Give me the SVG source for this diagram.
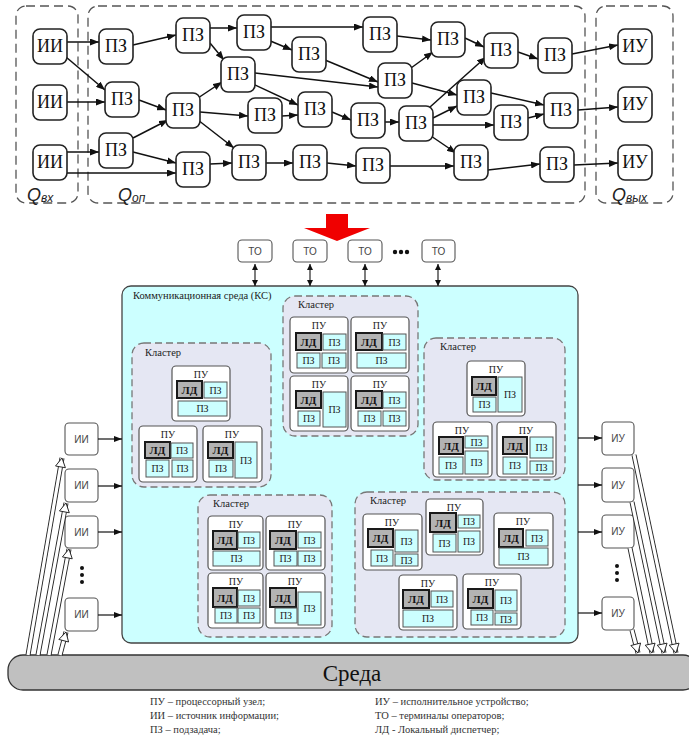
<svg xmlns="http://www.w3.org/2000/svg" width="689" height="740" viewBox="0 0 689 740">
<style>
.zone{fill:none;stroke:#555;stroke-width:1.3;stroke-dasharray:9 5}
.n{fill:#fff;stroke:#222;stroke-width:1.6}
.nt{font-family:"Liberation Serif","DejaVu Serif",serif;font-size:18px;fill:#111;text-anchor:middle}
.q{font-family:"Liberation Sans",Arial,sans-serif;font-style:italic;fill:#222;font-size:18px}
.e{stroke:#111;stroke-width:1.5;fill:none;marker-end:url(#a)}
.e2{stroke:#111;stroke-width:1.2;fill:none;marker-end:url(#a2)}
.d{stroke:#111;stroke-width:1.1;fill:none;marker-start:url(#a3);marker-end:url(#a3)}
.hs{stroke:#222;stroke-width:5;fill:none}
.hi{stroke:#fff;stroke-width:3.2;fill:none;marker-end:url(#h)}
.box{fill:#fff;stroke:#555;stroke-width:1.1}
.bt{font-family:"Liberation Sans",Arial,sans-serif;font-size:10px;fill:#444;text-anchor:middle}
.kc{fill:#ccffff;stroke:#444;stroke-width:1.3}
.cl{fill:#e5e7f3;stroke:#777;stroke-width:1.3;stroke-dasharray:7 4}
.lbl{font-family:"Liberation Serif","DejaVu Serif",serif;font-size:10.5px;fill:#222}
.pu{fill:#fff;stroke:#555;stroke-width:1.2}
.ld{fill:#b3b3b3;stroke:#1a1a1a;stroke-width:2}
.pz{fill:#ccffff;stroke:#555;stroke-width:1}
.t{font-family:"Liberation Serif","DejaVu Serif",serif;font-size:10px;fill:#222;text-anchor:middle}
.tb{font-family:"Liberation Serif","DejaVu Serif",serif;font-size:11px;font-weight:bold;fill:#111;text-anchor:middle}
.leg{font-family:"Liberation Serif","DejaVu Serif",serif;font-size:10.5px;fill:#333}
</style>
<defs>
<marker id="a" markerUnits="userSpaceOnUse" markerWidth="9" markerHeight="7" refX="9" refY="3.5" orient="auto"><path d="M0,0 L9,3.5 L0,7 z" fill="#111"/></marker>
<marker id="a2" markerUnits="userSpaceOnUse" markerWidth="8" markerHeight="6" refX="8" refY="3" orient="auto"><path d="M0,0 L8,3 L0,6 z" fill="#111"/></marker>
<marker id="a3" markerUnits="userSpaceOnUse" markerWidth="6" markerHeight="6" refX="6" refY="3" orient="auto-start-reverse"><path d="M0,0 L6,3 L0,6 z" fill="#111"/></marker>
<marker id="h" markerUnits="userSpaceOnUse" markerWidth="12" markerHeight="12" refX="9" refY="5" orient="auto" overflow="visible"><path d="M0,0 L9,5 L0,10 z" fill="#fff" stroke="#222" stroke-width="0.9"/></marker>
</defs>
<rect width="689" height="740" fill="#fff"/>

<g id="zones">
<rect class="zone" x="16" y="6" width="62" height="197" rx="10"/>
<rect class="zone" x="88" y="6" width="497" height="197" rx="10"/>
<rect class="zone" x="596" y="6" width="77" height="197" rx="10"/>
<text class="q" x="27" y="201">Q<tspan font-size="12" dy="1">вх</tspan></text>
<text class="q" x="118" y="201">Q<tspan font-size="12" dy="1">оп</tspan></text>
<text class="q" x="612" y="201">Q<tspan font-size="12" dy="1">вых</tspan></text>
</g>

<g id="edges">
<line class="e" x1="67" y1="42" x2="99" y2="42"/>
<line class="e" x1="66" y1="57" x2="105" y2="90"/>
<line class="e" x1="67" y1="102" x2="105" y2="102"/>
<line class="e" x1="67" y1="152" x2="99" y2="152"/>
<line class="e" x1="67" y1="173" x2="176" y2="173"/>
<line class="e" x1="133" y1="45" x2="176" y2="35"/>
<line class="e" x1="139" y1="100" x2="166" y2="110"/>
<line class="e" x1="133" y1="138" x2="168" y2="120"/>
<line class="e" x1="133" y1="152" x2="176" y2="163"/>
<line class="e" x1="210" y1="28" x2="237" y2="28"/>
<line class="e" x1="210" y1="43" x2="224" y2="60"/>
<line class="e" x1="198" y1="98" x2="222" y2="82"/>
<line class="e" x1="200" y1="112" x2="248" y2="116"/>
<line class="e" x1="198" y1="120" x2="234" y2="148"/>
<line class="e" x1="210" y1="164" x2="232" y2="163"/>
<line class="e" x1="271" y1="27" x2="363" y2="27"/>
<line class="e" x1="268" y1="40" x2="292" y2="50"/>
<line class="e" x1="255" y1="73" x2="378" y2="87"/>
<line class="e" x1="253" y1="84" x2="298" y2="105"/>
<line class="e" x1="325" y1="60" x2="378" y2="82"/>
<line class="e" x1="282" y1="116" x2="298" y2="115"/>
<line class="e" x1="332" y1="112" x2="351" y2="120"/>
<line class="e" x1="266" y1="163" x2="293" y2="163"/>
<line class="e" x1="327" y1="163" x2="356" y2="166"/>
<line class="e" x1="397" y1="36" x2="431" y2="40"/>
<line class="e" x1="411" y1="68" x2="433" y2="52"/>
<line class="e" x1="412" y1="83" x2="457" y2="95"/>
<line class="e" x1="385" y1="122" x2="399" y2="122"/>
<line class="e" x1="430" y1="107" x2="486" y2="57"/>
<line class="e" x1="433" y1="118" x2="457" y2="106"/>
<line class="e" x1="433" y1="125" x2="494" y2="125"/>
<line class="e" x1="431" y1="136" x2="456" y2="153"/>
<line class="e" x1="390" y1="166" x2="454" y2="166"/>
<line class="e" x1="465" y1="38" x2="484" y2="47"/>
<line class="e" x1="518" y1="52" x2="538" y2="59"/>
<line class="e" x1="572" y1="54" x2="618" y2="45"/>
<line class="e" x1="491" y1="93" x2="544" y2="105"/>
<line class="e" x1="528" y1="118" x2="544" y2="114"/>
<line class="e" x1="578" y1="110" x2="618" y2="107"/>
<line class="e" x1="488" y1="170" x2="540" y2="164"/>
<line class="e" x1="574" y1="165" x2="618" y2="163"/>
</g>

<g id="ii1"><rect class="n" x="33" y="29" width="34" height="35" rx="7"/><text class="nt" x="50" y="52">ИИ</text></g>
<g id="ii2"><rect class="n" x="33" y="85" width="34" height="35" rx="7"/><text class="nt" x="50" y="108">ИИ</text></g>
<g id="ii3"><rect class="n" x="33" y="145" width="34" height="35" rx="7"/><text class="nt" x="50" y="168">ИИ</text></g>
<g id="pA"><rect class="n" x="99" y="29" width="34" height="35" rx="7"/><text class="nt" x="116" y="52">ПЗ</text></g>
<g id="pB"><rect class="n" x="105" y="82" width="34" height="35" rx="7"/><text class="nt" x="122" y="105">ПЗ</text></g>
<g id="pC"><rect class="n" x="99" y="133" width="34" height="35" rx="7"/><text class="nt" x="116" y="156">ПЗ</text></g>
<g id="pD"><rect class="n" x="176" y="18" width="34" height="35" rx="7"/><text class="nt" x="193" y="41">ПЗ</text></g>
<g id="pE"><rect class="n" x="166" y="93" width="34" height="35" rx="7"/><text class="nt" x="183" y="116">ПЗ</text></g>
<g id="pF"><rect class="n" x="176" y="152" width="34" height="35" rx="7"/><text class="nt" x="193" y="175">ПЗ</text></g>
<g id="pG"><rect class="n" x="237" y="15" width="34" height="35" rx="7"/><text class="nt" x="254" y="38">ПЗ</text></g>
<g id="pH"><rect class="n" x="221" y="57" width="34" height="35" rx="7"/><text class="nt" x="238" y="80">ПЗ</text></g>
<g id="pI"><rect class="n" x="292" y="37" width="34" height="35" rx="7"/><text class="nt" x="309" y="60">ПЗ</text></g>
<g id="pJ"><rect class="n" x="248" y="98" width="34" height="35" rx="7"/><text class="nt" x="265" y="121">ПЗ</text></g>
<g id="pK"><rect class="n" x="298" y="92" width="34" height="35" rx="7"/><text class="nt" x="315" y="115">ПЗ</text></g>
<g id="pL"><rect class="n" x="232" y="145" width="34" height="35" rx="7"/><text class="nt" x="249" y="168">ПЗ</text></g>
<g id="pM"><rect class="n" x="293" y="145" width="34" height="35" rx="7"/><text class="nt" x="310" y="168">ПЗ</text></g>
<g id="pN"><rect class="n" x="363" y="17" width="34" height="35" rx="7"/><text class="nt" x="380" y="40">ПЗ</text></g>
<g id="pO"><rect class="n" x="378" y="63" width="34" height="35" rx="7"/><text class="nt" x="395" y="86">ПЗ</text></g>
<g id="pP"><rect class="n" x="351" y="103" width="34" height="35" rx="7"/><text class="nt" x="368" y="126">ПЗ</text></g>
<g id="pQ"><rect class="n" x="356" y="148" width="34" height="35" rx="7"/><text class="nt" x="373" y="171">ПЗ</text></g>
<g id="pR"><rect class="n" x="399" y="106" width="34" height="35" rx="7"/><text class="nt" x="416" y="129">ПЗ</text></g>
<g id="pS"><rect class="n" x="431" y="22" width="34" height="35" rx="7"/><text class="nt" x="448" y="45">ПЗ</text></g>
<g id="pT"><rect class="n" x="484" y="33" width="34" height="35" rx="7"/><text class="nt" x="501" y="56">ПЗ</text></g>
<g id="pU"><rect class="n" x="538" y="38" width="34" height="35" rx="7"/><text class="nt" x="555" y="61">ПЗ</text></g>
<g id="pV"><rect class="n" x="457" y="80" width="34" height="35" rx="7"/><text class="nt" x="474" y="103">ПЗ</text></g>
<g id="pW"><rect class="n" x="494" y="105" width="34" height="35" rx="7"/><text class="nt" x="511" y="128">ПЗ</text></g>
<g id="pX"><rect class="n" x="544" y="93" width="34" height="35" rx="7"/><text class="nt" x="561" y="116">ПЗ</text></g>
<g id="pY"><rect class="n" x="454" y="145" width="34" height="35" rx="7"/><text class="nt" x="471" y="168">ПЗ</text></g>
<g id="pZ"><rect class="n" x="540" y="147" width="34" height="35" rx="7"/><text class="nt" x="557" y="170">ПЗ</text></g>
<g id="iu1"><rect class="n" x="618" y="29" width="34" height="35" rx="7"/><text class="nt" x="635" y="52">ИУ</text></g>
<g id="iu2"><rect class="n" x="618" y="87" width="34" height="35" rx="7"/><text class="nt" x="635" y="110">ИУ</text></g>
<g id="iu3"><rect class="n" x="618" y="145" width="34" height="35" rx="7"/><text class="nt" x="635" y="168">ИУ</text></g>

<polygon id="bigarrow" points="326,214 348,214 348,228 370,228 337,241 304,228 326,228" fill="#f00000"/>

<g id="sreda">
<rect x="8" y="655" width="690" height="35" rx="15" fill="#c0c0c0" stroke="#333" stroke-width="1.3"/>
<text x="352" y="681" font-family="Liberation Serif, DejaVu Serif, serif" font-size="23" fill="#111" text-anchor="middle">Среда</text>
</g>

<g id="kc">
<rect class="kc" x="122" y="286" width="456" height="357" rx="9"/>
<text class="lbl" x="133" y="299">Коммуникационная среда (КС)</text>
</g>

<g id="to1"><rect class="box" x="238" y="240" width="34" height="22" rx="4"/><text class="bt" x="255" y="255">ТО</text></g>
<g id="to2"><rect class="box" x="293" y="240" width="34" height="22" rx="4"/><text class="bt" x="310" y="255">ТО</text></g>
<g id="to3"><rect class="box" x="348" y="240" width="34" height="22" rx="4"/><text class="bt" x="365" y="255">ТО</text></g>
<g id="to4"><rect class="box" x="422" y="240" width="33" height="22" rx="4"/><text class="bt" x="438.5" y="255">ТО</text></g>
<g id="todots" fill="#111"><circle cx="395" cy="252" r="2.2"/><circle cx="401" cy="252" r="2.2"/><circle cx="407" cy="252" r="2.2"/></g>

<g id="bii1"><rect class="box" x="65" y="423" width="33" height="32" rx="4"/><text class="bt" x="81.5" y="443">ИИ</text></g>
<g id="bii2"><rect class="box" x="65" y="469" width="33" height="33" rx="4"/><text class="bt" x="81.5" y="489">ИИ</text></g>
<g id="bii3"><rect class="box" x="65" y="516" width="33" height="32" rx="4"/><text class="bt" x="81.5" y="536">ИИ</text></g>
<g id="bii4"><rect class="box" x="65" y="598" width="33" height="33" rx="4"/><text class="bt" x="81.5" y="618">ИИ</text></g>
<g id="iidots" fill="#111"><circle cx="82" cy="568" r="2"/><circle cx="82" cy="575" r="2"/><circle cx="82" cy="582" r="2"/></g>
<g id="biu1"><rect class="box" x="602" y="422" width="32" height="33" rx="4"/><text class="bt" x="618" y="442">ИУ</text></g>
<g id="biu2"><rect class="box" x="602" y="468" width="32" height="34" rx="4"/><text class="bt" x="618" y="489">ИУ</text></g>
<g id="biu3"><rect class="box" x="602" y="515" width="32" height="33" rx="4"/><text class="bt" x="618" y="535">ИУ</text></g>
<g id="biu4"><rect class="box" x="602" y="597" width="32" height="33" rx="4"/><text class="bt" x="618" y="617">ИУ</text></g>
<g id="iudots" fill="#111"><circle cx="617" cy="566" r="2"/><circle cx="617" cy="573" r="2"/><circle cx="617" cy="580" r="2"/></g>

<g id="connectors">
<line class="d" x1="255" y1="264" x2="255" y2="286"/>
<line class="d" x1="310" y1="264" x2="310" y2="286"/>
<line class="d" x1="365" y1="264" x2="365" y2="286"/>
<line class="d" x1="438" y1="264" x2="438" y2="286"/>
<line class="e2" x1="98" y1="439" x2="122" y2="439"/>
<line class="e2" x1="98" y1="486" x2="122" y2="486"/>
<line class="e2" x1="98" y1="532" x2="122" y2="532"/>
<line class="e2" x1="98" y1="615" x2="122" y2="615"/>
<line class="e2" x1="578" y1="438" x2="602" y2="438"/>
<line class="e2" x1="578" y1="485" x2="602" y2="485"/>
<line class="e2" x1="578" y1="532" x2="602" y2="532"/>
<line class="e2" x1="578" y1="613" x2="602" y2="613"/>
<line class="hs" x1="28" y1="655" x2="62" y2="458"/><line class="hi" x1="28" y1="655" x2="62" y2="458"/>
<line class="hs" x1="38" y1="655" x2="66" y2="503"/><line class="hi" x1="38" y1="655" x2="66" y2="503"/>
<line class="hs" x1="49" y1="655" x2="69" y2="549"/><line class="hi" x1="49" y1="655" x2="69" y2="549"/>
<line class="hs" x1="60" y1="655" x2="66" y2="632"/><line class="hi" x1="60" y1="655" x2="66" y2="632"/>
<line class="hs" x1="634" y1="455" x2="676" y2="653"/><line class="hi" x1="634" y1="455" x2="676" y2="653"/>
<line class="hs" x1="632" y1="502" x2="664" y2="653"/><line class="hi" x1="632" y1="502" x2="664" y2="653"/>
<line class="hs" x1="630" y1="548" x2="652" y2="653"/><line class="hi" x1="630" y1="548" x2="652" y2="653"/>
<line class="hs" x1="632" y1="630" x2="638" y2="653"/><line class="hi" x1="632" y1="630" x2="638" y2="653"/>
</g>

<g id="cluster1">
<rect class="cl" x="132" y="343" width="139" height="144" rx="12"/>
<text class="lbl" x="145" y="356" font-size="10">Кластер</text>
<rect class="pu" x="172" y="366" width="58" height="55" rx="4"/><text class="t" x="201" y="378">ПУ</text>
<rect class="ld" x="177" y="381" width="25" height="17"/><text class="tb" x="189.5" y="393.5">ЛД</text>
<rect class="pz" x="204" y="382" width="23" height="16"/><text class="t" x="215.5" y="394">ПЗ</text>
<rect class="pz" x="178" y="401" width="49" height="15"/><text class="t" x="202.5" y="412">ПЗ</text>
<rect class="pu" x="139" y="426" width="58" height="56" rx="4"/><text class="t" x="168" y="438">ПУ</text>
<rect class="ld" x="145" y="442" width="25" height="16"/><text class="tb" x="157.5" y="454">ЛД</text>
<rect class="pz" x="171" y="443" width="22" height="15"/><text class="t" x="182" y="454">ПЗ</text>
<rect class="pz" x="146" y="460" width="23" height="17"/><text class="t" x="157.5" y="472">ПЗ</text>
<rect class="pz" x="172" y="460" width="21" height="17"/><text class="t" x="182.5" y="472">ПЗ</text>
<rect class="pu" x="203" y="426" width="59" height="56" rx="4"/><text class="t" x="232" y="438">ПУ</text>
<rect class="ld" x="208" y="442" width="25" height="16"/><text class="tb" x="220.5" y="454">ЛД</text>
<rect class="pz" x="235" y="442" width="22" height="36"/><text class="t" x="246" y="464">ПЗ</text>
<rect class="pz" x="209" y="460" width="24" height="17"/><text class="t" x="221" y="472">ПЗ</text>
</g>

<g id="cluster2">
<rect class="cl" x="283" y="296" width="135" height="140" rx="12"/>
<text class="lbl" x="298" y="308" font-size="10">Кластер</text>
<rect class="pu" x="290" y="317" width="58" height="56" rx="4"/><text class="t" x="319" y="329">ПУ</text>
<rect class="ld" x="296" y="333" width="25" height="17"/><text class="tb" x="308.5" y="345.5">ЛД</text>
<rect class="pz" x="323" y="334" width="23" height="16"/><text class="t" x="334.5" y="346">ПЗ</text>
<rect class="pz" x="297" y="353" width="23" height="15"/><text class="t" x="308.5" y="364">ПЗ</text>
<rect class="pz" x="322" y="353" width="24" height="15"/><text class="t" x="334" y="364">ПЗ</text>
<rect class="pu" x="351" y="317" width="58" height="56" rx="4"/><text class="t" x="380" y="329">ПУ</text>
<rect class="ld" x="356" y="333" width="26" height="17"/><text class="tb" x="369" y="345.5">ЛД</text>
<rect class="pz" x="383" y="334" width="23" height="16"/><text class="t" x="394.5" y="346">ПЗ</text>
<rect class="pz" x="357" y="353" width="49" height="15"/><text class="t" x="381.5" y="364">ПЗ</text>
<rect class="pu" x="290" y="376" width="58" height="55" rx="4"/><text class="t" x="319" y="388">ПУ</text>
<rect class="ld" x="296" y="391" width="25" height="17"/><text class="tb" x="308.5" y="403.5">ЛД</text>
<rect class="pz" x="323" y="392" width="23" height="35"/><text class="t" x="334.5" y="413">ПЗ</text>
<rect class="pz" x="298" y="411" width="22" height="15"/><text class="t" x="309" y="422">ПЗ</text>
<rect class="pu" x="351" y="376" width="58" height="55" rx="4"/><text class="t" x="380" y="388">ПУ</text>
<rect class="ld" x="356" y="391" width="26" height="17"/><text class="tb" x="369" y="403.5">ЛД</text>
<rect class="pz" x="383" y="392" width="23" height="16"/><text class="t" x="394.5" y="404">ПЗ</text>
<rect class="pz" x="358" y="411" width="23" height="15"/><text class="t" x="369.5" y="422">ПЗ</text>
<rect class="pz" x="383" y="411" width="23" height="15"/><text class="t" x="394.5" y="422">ПЗ</text>
</g>

<g id="cluster3">
<rect class="cl" x="424" y="338" width="141" height="142" rx="12"/>
<text class="lbl" x="440" y="350" font-size="10">Кластер</text>
<rect class="pu" x="467" y="361" width="58" height="55" rx="4"/><text class="t" x="496" y="373">ПУ</text>
<rect class="ld" x="472" y="377" width="24" height="18"/><text class="tb" x="484" y="390">ЛД</text>
<rect class="pz" x="498" y="377" width="24" height="35"/><text class="t" x="510" y="398">ПЗ</text>
<rect class="pz" x="473" y="397" width="23" height="15"/><text class="t" x="484.5" y="408">ПЗ</text>
<rect class="pu" x="433" y="422" width="59" height="55" rx="4"/><text class="t" x="462" y="434">ПУ</text>
<rect class="ld" x="439" y="437" width="24" height="17"/><text class="tb" x="451" y="449.5">ЛД</text>
<rect class="pz" x="465" y="436" width="23" height="12"/><text class="t" x="476.5" y="446" font-size="9">ПЗ</text>
<rect class="pz" x="465" y="451" width="23" height="23"/><text class="t" x="476.5" y="466">ПЗ</text>
<rect class="pz" x="439" y="457" width="24" height="17"/><text class="t" x="451" y="469">ПЗ</text>
<rect class="pu" x="497" y="422" width="59" height="55" rx="4"/><text class="t" x="526" y="434">ПУ</text>
<rect class="ld" x="503" y="437" width="24" height="17"/><text class="tb" x="515" y="449.5">ЛД</text>
<rect class="pz" x="530" y="437" width="23" height="21"/><text class="t" x="541.5" y="451">ПЗ</text>
<rect class="pz" x="530" y="461" width="23" height="13"/><text class="t" x="541.5" y="471" font-size="9">ПЗ</text>
<rect class="pz" x="503" y="457" width="24" height="17"/><text class="t" x="515" y="469">ПЗ</text>
</g>

<g id="cluster4">
<rect class="cl" x="198" y="495" width="134" height="142" rx="12"/>
<text class="lbl" x="213" y="507" font-size="10">Кластер</text>
<rect class="pu" x="208" y="516" width="55" height="54" rx="4"/><text class="t" x="236" y="528">ПУ</text>
<rect class="ld" x="213" y="531" width="24" height="18"/><text class="tb" x="225" y="544">ЛД</text>
<rect class="pz" x="238" y="532" width="22" height="16"/><text class="t" x="249" y="544">ПЗ</text>
<rect class="pz" x="213" y="551" width="47" height="15"/><text class="t" x="236.5" y="562">ПЗ</text>
<rect class="pu" x="266" y="516" width="59" height="54" rx="4"/><text class="t" x="295" y="528">ПУ</text>
<rect class="ld" x="270" y="531" width="26" height="18"/><text class="tb" x="283" y="544">ЛД</text>
<rect class="pz" x="298" y="532" width="23" height="16"/><text class="t" x="309.5" y="544">ПЗ</text>
<rect class="pz" x="274" y="551" width="23" height="15"/><text class="t" x="285.5" y="562">ПЗ</text>
<rect class="pz" x="298" y="551" width="23" height="15"/><text class="t" x="309.5" y="562">ПЗ</text>
<rect class="pu" x="208" y="573" width="55" height="55" rx="4"/><text class="t" x="236" y="585">ПУ</text>
<rect class="ld" x="213" y="588" width="24" height="19"/><text class="tb" x="225" y="601.5">ЛД</text>
<rect class="pz" x="238" y="590" width="22" height="16"/><text class="t" x="249" y="602">ПЗ</text>
<rect class="pz" x="215" y="608" width="22" height="15"/><text class="t" x="226" y="619">ПЗ</text>
<rect class="pz" x="238" y="608" width="22" height="15"/><text class="t" x="249" y="619">ПЗ</text>
<rect class="pu" x="266" y="573" width="59" height="55" rx="4"/><text class="t" x="295" y="585">ПУ</text>
<rect class="ld" x="270" y="588" width="26" height="19"/><text class="tb" x="283" y="601.5">ЛД</text>
<rect class="pz" x="298" y="592" width="23" height="33"/><text class="t" x="309.5" y="612">ПЗ</text>
<rect class="pz" x="275" y="608" width="22" height="15"/><text class="t" x="286" y="619">ПЗ</text>
</g>

<g id="cluster5">
<rect class="cl" x="355" y="492" width="210" height="145" rx="12"/>
<text class="lbl" x="370" y="504" font-size="10">Кластер</text>
<rect class="pu" x="363" y="514" width="59" height="56" rx="4"/><text class="t" x="392" y="526">ПУ</text>
<rect class="ld" x="368" y="529" width="25" height="18"/><text class="tb" x="380.5" y="542">ЛД</text>
<rect class="pz" x="395" y="530" width="23" height="22"/><text class="t" x="406.5" y="545">ПЗ</text>
<rect class="pz" x="395" y="554" width="23" height="12"/><text class="t" x="406.5" y="564" font-size="9">ПЗ</text>
<rect class="pz" x="371" y="550" width="22" height="16"/><text class="t" x="382" y="562">ПЗ</text>
<rect class="pu" x="426" y="499" width="57" height="56" rx="4"/><text class="t" x="454" y="511">ПУ</text>
<rect class="ld" x="430" y="513" width="26" height="19"/><text class="tb" x="443" y="526.5">ЛД</text>
<rect class="pz" x="458" y="515" width="22" height="13"/><text class="t" x="469" y="525" font-size="9">ПЗ</text>
<rect class="pz" x="458" y="531" width="22" height="21"/><text class="t" x="469" y="545">ПЗ</text>
<rect class="pz" x="433" y="534" width="23" height="18"/><text class="t" x="444.5" y="547">ПЗ</text>
<rect class="pu" x="494" y="513" width="59" height="55" rx="4"/><text class="t" x="523" y="525">ПУ</text>
<rect class="ld" x="499" y="529" width="24" height="18"/><text class="tb" x="511" y="542">ЛД</text>
<rect class="pz" x="526" y="530" width="22" height="16"/><text class="t" x="537" y="542">ПЗ</text>
<rect class="pz" x="499" y="548" width="49" height="17"/><text class="t" x="523.5" y="560">ПЗ</text>
<rect class="pu" x="399" y="575" width="58" height="55" rx="4"/><text class="t" x="428" y="587">ПУ</text>
<rect class="ld" x="403" y="590" width="26" height="18"/><text class="tb" x="416" y="603">ЛД</text>
<rect class="pz" x="431" y="591" width="22" height="16"/><text class="t" x="442" y="603">ПЗ</text>
<rect class="pz" x="403" y="610" width="50" height="17"/><text class="t" x="428" y="622">ПЗ</text>
<rect class="pu" x="463" y="574" width="58" height="55" rx="4"/><text class="t" x="492" y="586">ПУ</text>
<rect class="ld" x="468" y="589" width="25" height="19"/><text class="tb" x="480.5" y="602.5">ЛД</text>
<rect class="pz" x="495" y="590" width="22" height="21"/><text class="t" x="506" y="604">ПЗ</text>
<rect class="pz" x="495" y="613" width="22" height="12"/><text class="t" x="506" y="623" font-size="9">ПЗ</text>
<rect class="pz" x="471" y="610" width="22" height="15"/><text class="t" x="482" y="621">ПЗ</text>
</g>

<g id="legend">
<text class="leg" x="150" y="705">ПУ – процессорный узел;</text>
<text class="leg" x="150" y="719">ИИ – источник информации;</text>
<text class="leg" x="150" y="733">ПЗ – подзадача;</text>
<text class="leg" x="375" y="705">ИУ – исполнительное устройство;</text>
<text class="leg" x="375" y="719">ТО – терминалы операторов;</text>
<text class="leg" x="375" y="733">ЛД - Локальный диспетчер;</text>
</g>
</svg>
